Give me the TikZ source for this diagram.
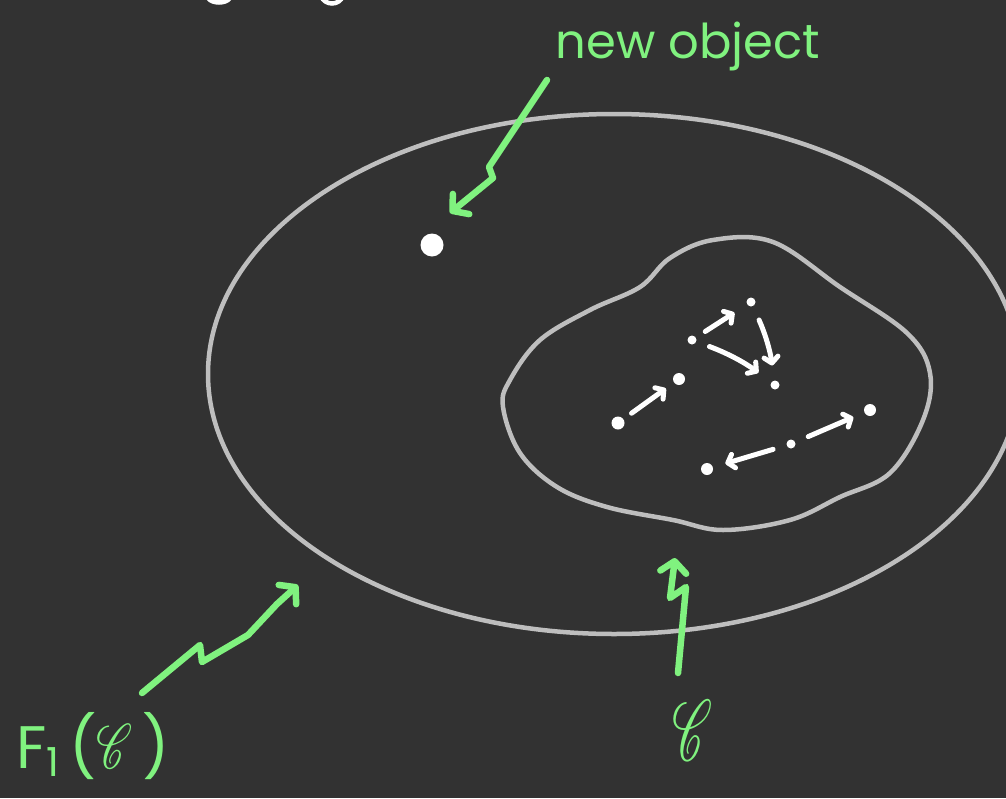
\documentclass[tikz,border=0pt]{standalone}
\usepackage{fontspec}
\setmainfont{Poppins}
\usepackage{mathrsfs}
\usetikzlibrary{arrows.meta, positioning}

\definecolor{board}{HTML}{323232}
\definecolor{chalk}{HTML}{BEBEBE}
\definecolor{marker}{HTML}{80F27F}

\begin{document}
\begin{tikzpicture}[x=1pt, y=-1pt,
  dot/.style={circle, fill=white, inner sep=0pt, minimum size=#1},
  dot/.default=9pt,
  rel/.style={white, line width=5pt, line cap=round, -{Straight Barb[round, length=6pt, width=14pt]}},
  zap/.style={marker, line width=6.5pt, line cap=round, line join=round, -{Straight Barb[round, length=11pt, width=26pt]}},
  lbl/.style={text=marker, inner sep=0pt}]
  \fill[board] (0,0) rectangle (1006,798);
  \useasboundingbox (0,0) rectangle (1006,798);
  \clip (0,0) rectangle (1006,798);

  % cut-off text at the top
  \draw[white, line width=4.5pt, line cap=round] (208,-2) .. controls (212,4) and (226,4) .. (230,-2);
  \draw[white, line width=4.5pt, line cap=round] (321,-4) .. controls (325,6) and (339,6) .. (343,-4);

  % F_1(C) and C
  \draw[chalk, line width=4.5pt] (614,374) ellipse [x radius=406pt, y radius=260pt];
  \draw[chalk, line width=4.5pt] plot[smooth cycle, tension=0.6] coordinates {
    (670,258) (713,240) (773,242) (840,287) (907,333) (930,373) (923,420)
    (890,473) (840,497) (790,520) (723,530) (673,520) (607,507) (557,487)
    (520,453) (503,407) (510,380) (540,340) (590,310) (640,287)};

  % objects
  \node[dot=23pt] (nobj) at (432,245) {};
  \node[dot=13pt] (a) at (618,423) {};
  \node[dot=12pt] (b) at (679,379) {};
  \node[dot] (c) at (692,340) {};
  \node[dot] (d) at (751,302) {};
  \node[dot] (e) at (775,385) {};
  \node[dot=12pt] (f) at (870,410) {};
  \node[dot] (g) at (791,444) {};
  \node[dot=12pt] (h) at (707,469) {};

  % morphisms
  \draw[rel, shorten <=10pt, shorten >=10pt] (a) -- (b);
  \draw[rel, shorten <=11pt, shorten >=15pt] (c) -- (d);
  \draw[rel, shorten <=15pt, shorten >=15pt] (d) to[bend left=8] (e);
  \draw[rel, shorten <=14pt, shorten >=16pt] (c) to[bend left=8] (e);
  \draw[rel, shorten <=14pt, shorten >=12pt] (g) -- (f);
  \draw[rel, shorten <=14pt, shorten >=13pt] (g) -- (h);

  % labels
  \node[lbl, font=\fontsize{60}{64}\selectfont, anchor=base west] (flbl) at (16,768)
    {F\raisebox{-0.14em}{\fontsize{40}{40}\selectfont 1}\,(\resizebox{36pt}{44pt}{$\mathscr{C}$}\,)};
  \node[lbl, font=\fontsize{48}{52}\selectfont, anchor=base] (newlbl) at (688,58) {new object};
  \node[lbl, anchor=base] (clbl) at (692,760) {\resizebox{40pt}{60pt}{$\mathscr{C}$}};

  % pointers
  \coordinate (z1) at (547,80);
  \coordinate (z1e) at (450,213);
  \draw[zap] (z1) -- (489,167) -- (493,178) -- (z1e);
  \coordinate (z2) at (142,693);
  \coordinate (z2e) at (298,585);
  \draw[zap] (z2) -- (200,645) -- (202,662) -- (248,635) -- (277,604) -- (z2e);
  \coordinate (z3) at (678,673);
  \coordinate (z3e) at (675,558);
  \draw[zap] (z3) -- (686,587) -- (670,598) -- (z3e);
\end{tikzpicture}
\end{document}
